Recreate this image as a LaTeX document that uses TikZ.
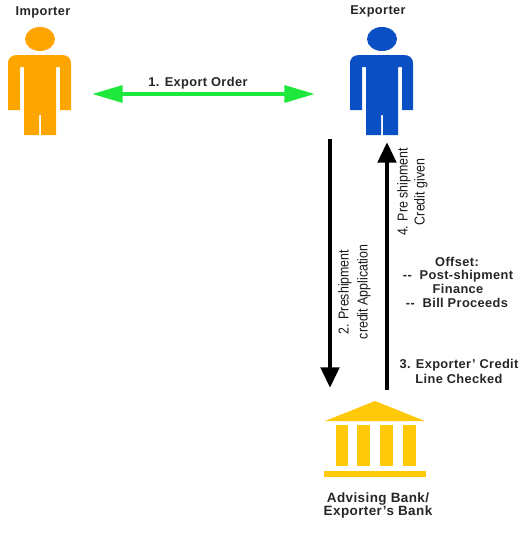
\documentclass[tikz,border=0pt]{standalone}
\usepackage{fontspec}
\setmainfont{Liberation Sans}
\newfontfamily\widebold[LetterSpace=3,Scale=1]{Liberation Sans Bold}
\usetikzlibrary{arrows.meta}
\definecolor{personorange}{HTML}{FFA500}
\definecolor{personblue}{HTML}{0B4FC4}
\definecolor{arrowgreen}{HTML}{1EE83C}
\definecolor{bankyellow}{HTML}{FFC808}
\newcommand{\narrowtext}[1]{\scalebox{0.86}[1]{#1}}
\tikzset{
  x=0.75pt,y=-0.75pt,
  lbl/.style={inner sep=0pt,align=center,font=\widebold\fontsize{9.6}{10}\selectfont,text=black!85},
  banklbl/.style={lbl,font=\widebold\fontsize{10.1}{10}\selectfont},
  rotlbl/.style={inner sep=0pt,rotate=90,font=\fontsize{10.8}{11}\selectfont,text=black!90},
  blackarrow/.style={line width=3.6pt,-{Triangle[length=15.5pt,width=13.5pt]}},
  greenarrow/.style={draw=arrowgreen,line width=3.2pt,{Triangle[length=23pt,width=12.5pt]}-{Triangle[length=23pt,width=12.5pt]}},
  person/.pic={
    \fill[pic actions] (0,-1) ellipse [x radius=15,y radius=12];
    \fill[pic actions]
      (-32,70)
      -- (-32,24) .. controls (-32,17) and (-28,15) .. (-22,15)
      -- (21,15) .. controls (27,15) and (31,17) .. (31,24)
      -- (31,70) -- (20,70) -- (20,27) -- (16,27) -- (16,95) -- (1,95) -- (1,75)
      -- (-1,75) -- (-1,95) -- (-16,95) -- (-16,27) -- (-20,27) -- (-20,70) -- cycle;
  }
}
\begin{document}
\begin{tikzpicture}
\useasboundingbox (0,0) rectangle (530,536);
% people
\path (40,40) pic[fill=personorange] {person};
\path (382,40) pic[fill=personblue] {person};
\node[lbl] (importer) at (43,12) {Importer};
\node[lbl] (exporter) at (378,11) {Exporter};
% anchors of the connectors
\coordinate (orderL) at (92,94);
\coordinate (orderR) at (315,94);
\coordinate (appTop) at (330,139);
\coordinate (appBot) at (330,388);
\coordinate (credBot) at (387,390);
\coordinate (credTop) at (387,142);
\draw[greenarrow] (orderL) -- (orderR);
\draw[blackarrow] (appTop) -- (appBot);
\draw[blackarrow] (credBot) -- (credTop);
% labels
\node[lbl] (order) at (198,83) {1. Export Order};
\node[rotlbl] (app1) at (345,292) {\narrowtext{2. Preshipment}};
\node[rotlbl] (app2) at (364,292) {\narrowtext{credit Application}};
\node[rotlbl] (giv1) at (404,192) {\narrowtext{4. Pre shipment}};
\node[rotlbl] (giv2) at (421,192) {\narrowtext{Credit given}};
\node[lbl] (off1) at (457,262) {Offset:};
\node[lbl] (off2) at (458,276) {-- \ Post-shipment};
\node[lbl] (off3) at (458,289) {Finance};
\node[lbl] (off4) at (457,303) {-- \ Bill Proceeds};
\node[lbl] (chk1) at (459,365) {3. Exporter’ Credit};
\node[lbl] (chk2) at (459,379) {Line Checked};
% bank
\fill[bankyellow] (375,401) -- (425,421) -- (325,421) -- cycle;
\foreach \a/\b in {336/348,357/370,380/393,403/416}
  \fill[bankyellow] (\a,425) rectangle (\b,466);
\fill[bankyellow] (324,471) rectangle (426,477);
\node[banklbl] (bank1) at (378,499) {Advising Bank/};
\node[banklbl] (bank2) at (378,512) {Exporter’s Bank};
\end{tikzpicture}
\end{document}
